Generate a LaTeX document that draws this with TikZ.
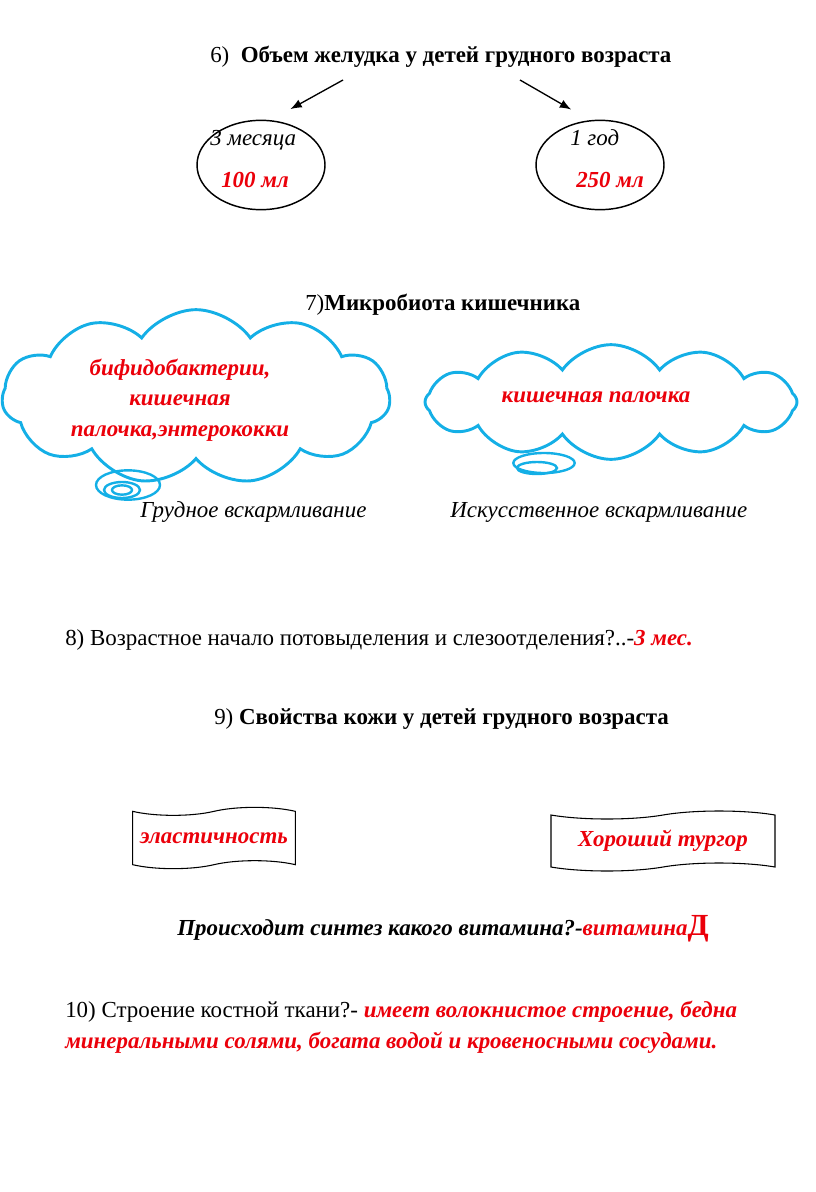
\documentclass[tikz,border=0pt]{standalone}
\usepackage{fontspec}
\setmainfont{Liberation Serif}
\usepackage{xcolor}
\usetikzlibrary{arrows.meta, positioning, shapes.geometric, shapes.symbols}
\definecolor{rd}{RGB}{235,0,10}
\definecolor{sky}{RGB}{20,175,230}
\tikzset{
    txt/.style={anchor=base west, inner sep=0pt, font=\fontsize{17.2}{20}\selectfont},
    val/.style={txt, text=rd, font=\fontsize{17.2}{20}\selectfont\bfseries\itshape},
    ovl/.style={draw=black, line width=1.1pt, ellipse, minimum width=96pt, minimum height=67pt, inner sep=0pt},
    cld/.style={draw=sky, line width=2.2pt, cloud, cloud ignores aspect, cloud puffs=11,
                cloud puff arc=110, inner sep=0pt},
    bub/.style={draw=sky, line width=1.8pt, ellipse, inner sep=0pt},
    clt/.style={align=center, text=rd, inner sep=0pt, font=\fontsize{17.2}{23}\selectfont\bfseries\itshape},
    tp/.style={draw=black, line width=0.8pt, tape, tape bend height=6pt, inner sep=2pt,
               text=rd, font=\fontsize{17.2}{20}\selectfont\bfseries\itshape},
    arr/.style={-{Latex[length=3mm, width=2.3mm]}, line width=1pt, black},
}

\begin{document}
\begin{tikzpicture}[x=0.75pt, y=-0.75pt]
    \useasboundingbox (0,0) rectangle (816,1192);
    % 6
    \node[txt] (t6) at (210,62) {6)\ \ \textbf{Объем желудка у детей грудного возраста}};
    \node[ovl] (m3) at (261,165) {};
    \node[ovl] (y1) at (600,165) {};
    \node[txt, font=\fontsize{17.2}{20}\selectfont\itshape] (m3t) at (210,145) {3 месяца};
    \node[val] (m3v) at (221,187) {100 мл};
    \node[txt, font=\fontsize{17.2}{20}\selectfont\itshape] (y1t) at (570,145) {1 год};
    \node[val] (y1v) at (576,187) {250 мл};
    \coordinate (a6l) at (343,80);
    \coordinate (a6r) at (520,80);
    \draw[arr, shorten >=17pt] (a6l) -- (m3.78);
    \draw[arr, shorten >=16pt] (a6r) -- (y1.103);
    % 7
    \node[txt] (t7) at (305,310) {7)\textbf{Микробиота кишечника}};
    \node[cld, minimum width=291pt, minimum height=131pt] (grd) at (196,397) {};
    \node[bub, minimum width=48pt, minimum height=22pt] (grdb1) at (128,485) {};
    \node[bub, minimum width=27pt, minimum height=12pt] (grdb2) at (122,490) {};
    \node[bub, minimum width=15pt, minimum height=7pt] (grdb3) at (122,490) {};
    \node[clt] (grdt) at (180,400) {бифидобактерии,\\кишечная\\палочка,энтерококки};
    \node[cld, cloud puffs=12, minimum width=279pt, minimum height=86pt] (isk) at (611,402) {};
    \node[bub, minimum width=46pt, minimum height=15pt] (iskb1) at (544,463) {};
    \node[bub, minimum width=30pt, minimum height=9pt] (iskb2) at (537,468) {};
    \node[clt] (iskt) at (596,397) {кишечная палочка};
    \node[txt, font=\fontsize{17.2}{20}\selectfont\itshape] (grdl) at (140,517) {Грудное вскармливание};
    \node[txt, font=\fontsize{17.2}{20}\selectfont\itshape] (iskl) at (450,517) {Искусственное вскармливание};
    % 8
    \node[txt] (t8) at (65,645) {8) Возрастное начало потовыделения и слезоотделения?..-\textcolor{rd}{\textbf{\textit{3 мес.}}}};
    % 9
    \node[txt] (t9) at (214,724) {9) \textbf{Свойства кожи у детей грудного возраста}};
    \node[tp, minimum width=122pt, minimum height=46pt] (ela) at (214,838) {эластичность};
    \node[tp, minimum width=168pt, minimum height=45pt] (tur) at (663,841) {Хороший тургор};
    \node[txt, font=\fontsize{17.2}{20}\selectfont\bfseries\itshape] (vit) at (177,935)
        {Происходит синтез какого витамина?-\textcolor{rd}{витамина{\upshape\fontsize{23}{23}\selectfont Д}}};
    % 10
    \node[txt] (t10) at (65,1017) {10) Строение костной ткани?- \textcolor{rd}{\textbf{\textit{имеет волокнистое строение, бедна}}}};
    \node[val] (t10b) at (65,1048) {минеральными солями, богата водой и кровеносными сосудами.};
\end{tikzpicture}
\end{document}
